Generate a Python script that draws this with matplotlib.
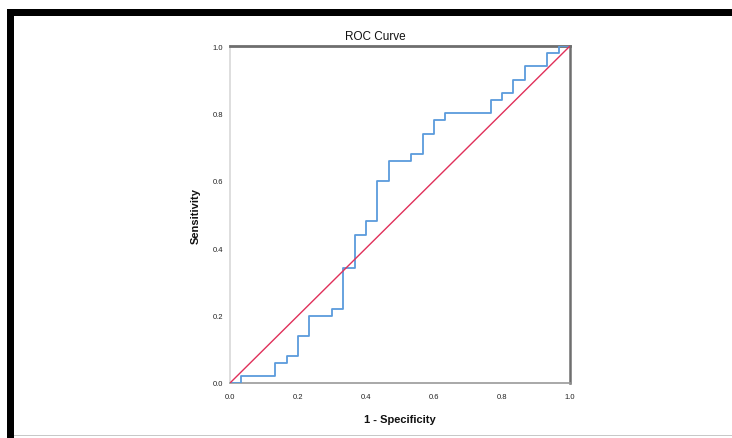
import matplotlib
matplotlib.use("Agg")
import matplotlib.pyplot as plt
from matplotlib.patches import Rectangle

plt.rcParams['font.family'] = ['Liberation Sans', 'DejaVu Sans']

# ROC step points (1 - Specificity, Sensitivity)
fpr = [0, 1/30, 4/30, 5/30, 6/30, 7/30, 9/30, 10/30, 11/30, 12/30, 13/30, 14/30,
       16/30, 17/30, 18/30, 19/30, 23/30, 24/30, 25/30, 26/30, 28/30, 29/30, 1.0]
tpr = [0, 0.02, 0.06, 0.08, 0.14, 0.20, 0.22, 0.34, 0.44, 0.48, 0.60, 0.66,
       0.68, 0.74, 0.78, 0.80, 0.84, 0.86, 0.90, 0.94, 0.98, 1.0, 1.0]
ref_x = [0.0, 1.0]
ref_y = [0.0, 1.0]
ticks = [0.0, 0.2, 0.4, 0.6, 0.8, 1.0]
tick_labels = ['0.0', '0.2', '0.4', '0.6', '0.8', '1.0']

W, H = 732, 439
fig = plt.figure(figsize=(W/100, H/100), dpi=100)
fig.patch.set_facecolor('white')

# outer frame (black top/left bands, grey bottom line)
fig.add_artist(Rectangle((7/W, 1 - 17/H), 1 - 7/W, 7/H, transform=fig.transFigure,
                         facecolor='black', edgecolor='none'))
fig.add_artist(Rectangle((7/W, 0), 7/W, 1 - 10.5/H, transform=fig.transFigure,
                         facecolor='black', edgecolor='none'))
fig.add_artist(Rectangle((14/W, 1 - 437/H), 1 - 14/W, 1.2/H, transform=fig.transFigure,
                         facecolor='#c8c8c8', edgecolor='none'))

ax = fig.add_axes([230/W, (H - 384)/H, 340/W, 337/H])
ax.plot(fpr, tpr, drawstyle='steps-post', color='#5b9bdc', lw=1.3, zorder=3)
ax.plot(ref_x, ref_y, color='#e0305a', lw=1.0, zorder=4)
ax.set_xlim(0, 1)
ax.set_ylim(0, 1)
ax.set_xticks(ticks)
ax.set_xticklabels(tick_labels)
ax.set_yticks(ticks)
ax.set_yticklabels(tick_labels)
ax.tick_params(length=0, labelsize=5.5, colors='#222222')
ax.tick_params(axis='x', pad=7)
ax.tick_params(axis='y', pad=5)

for side, c, w in [('top', '#6e6e6e', 2.0), ('right', '#6e6e6e', 1.8),
                   ('left', '#d8d8d8', 1.2), ('bottom', '#9a9a9a', 1.2)]:
    ax.spines[side].set_color(c)
    ax.spines[side].set_linewidth(w)

fig.text(375/W, 1 - 37/H, 'ROC Curve', ha='center', va='center', fontsize=8.5, color='#111111')
fig.text(400/W, 1 - 420/H, '1 - Specificity', ha='center', va='center', fontsize=8,
         fontweight='bold', color='#111111')
fig.text(196/W, 1 - 216/H, 'Sensitivity', ha='center', va='center', fontsize=8,
         fontweight='bold', rotation=90, color='#111111')

fig.savefig('out.png', dpi=100, facecolor='white')
